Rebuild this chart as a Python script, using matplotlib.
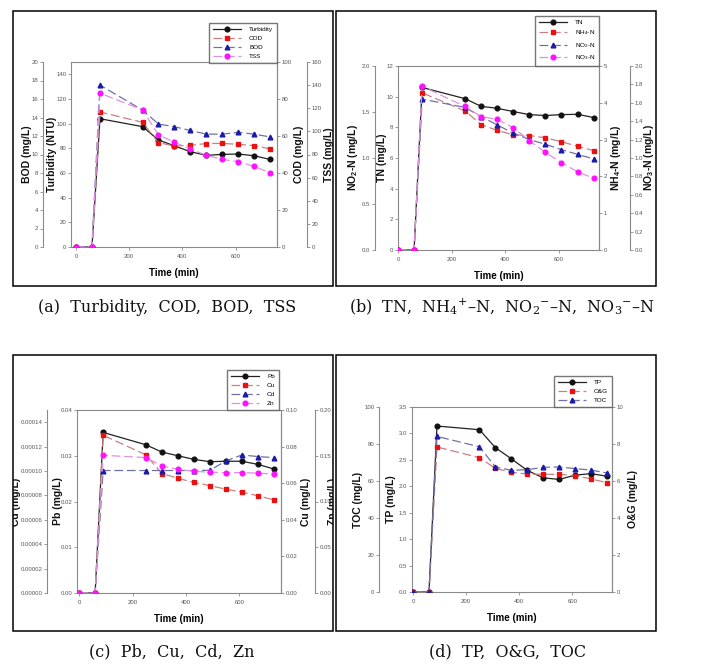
import matplotlib
matplotlib.use("Agg")
import matplotlib.pyplot as plt
from matplotlib.patches import Rectangle
from matplotlib.lines import Line2D
from matplotlib.ticker import FormatStrFormatter
import numpy as np

W, H = 701, 664
plt.rcParams.update({
    "font.family": ["Liberation Sans Narrow", "Liberation Sans", "DejaVu Sans"],
    "mathtext.fontset": "custom",
    "mathtext.rm": "Liberation Sans",
    "mathtext.bf": "Liberation Sans:bold",
})

# ---------------------------------------------------------------- data
time = [0, 60, 90, 250, 310, 370, 430, 490, 550, 610, 670, 730]

turbidity = [0, 0, 104, 97.6, 86.8, 82, 77.3, 74.3, 75.1, 75.4, 74, 71]
cod = [0, 0, 73, 67.4, 56.4, 54.6, 55, 55.9, 56, 55.5, 54.8, 53]
bod = [0, 0, 17.5, 14.8, 13.3, 13.0, 12.6, 12.2, 12.2, 12.4, 12.2, 11.9]
tss = [0, 0, 133, 118.6, 97, 90.6, 84.8, 79.3, 75.8, 73.8, 69.7, 64.2]

tn = [0, 0, 10.6, 9.87, 9.37, 9.24, 9.03, 8.83, 8.77, 8.83, 8.85, 8.64]
nh4 = [0, 0, 4.27, 3.78, 3.41, 3.25, 3.13, 3.11, 3.05, 2.94, 2.82, 2.70]
no2 = [0, 0, 1.64, 1.55, 1.45, 1.36, 1.27, 1.20, 1.15, 1.09, 1.04, 0.99]
no3 = [0, 0, 1.78, 1.56, 1.45, 1.42, 1.33, 1.19, 1.06, 0.95, 0.85, 0.78]

pb = [0, 0, 0.0351, 0.0324, 0.0308, 0.0300, 0.0292, 0.0287, 0.0288, 0.0288, 0.0281, 0.0271]
cu = [0, 0, 0.0862, 0.0755, 0.0653, 0.0627, 0.0604, 0.0587, 0.0567, 0.0551, 0.0531, 0.0509]
cd = [0, 0, 1.004e-4, 1.004e-4, 1.004e-4, 1.004e-4, 1.004e-4, 1.006e-4, 1.083e-4, 1.132e-4, 1.118e-4, 1.110e-4]
zn = [0, 0, 0.1505, 0.148, 0.139, 0.135, 0.133, 0.132, 0.1316, 0.1316, 0.131, 0.130]

tp = [0, 0, 3.14, 3.07, 2.73, 2.52, 2.30, 2.16, 2.13, 2.21, 2.24, 2.19]
og = [0, 0, 7.84, 7.26, 6.68, 6.47, 6.38, 6.36, 6.36, 6.29, 6.11, 5.91]
toc = [0, 0, 84.1, 78.5, 67.6, 65.8, 66.1, 67.4, 67.6, 66.7, 65.9, 64.3]

captions = ["(a)  Turbidity,  COD,  BOD,  TSS",
            "(b)  TN,  NH$_4$$^{+}$\u2013N,  NO$_2$$^{-}$\u2013N,  NO$_3$$^{-}$\u2013N",
            "(c)  Pb,  Cu,  Cd,  Zn",
            "(d)  TP,  O&G,  TOC"]

# series styles: (marker colour, line colour, marker, dashed)
STYLES = [("#111111", "#222222", "o", False),
          ("#e81010", "#c98080", "s", True),
          ("#1a1aa8", "#7070a8", "^", True),
          ("#ff10ff", "#e090e0", "o", True)]

SPINE = "#8a8a8a"
TICKC = "#555555"
TICKFS = 4.3

fig = plt.figure(figsize=(W / 100, H / 100), dpi=100)


def frect(l, t, r, b):
    return [l / W, 1 - b / H, (r - l) / W, (b - t) / H]


def style_y(a, side, lim, ticks, fmt):
    a.set_ylim(*lim)
    a.set_yticks(ticks)
    a.yaxis.set_major_formatter(FormatStrFormatter(fmt))
    a.tick_params(axis="y", which="both", direction="out", length=2.2, width=0.6,
                  colors=SPINE, labelcolor=TICKC, labelsize=TICKFS, pad=1.2)
    a.yaxis.set_ticks_position(side)


def panel(box, frame, xlim, series, labels, axes_spec, ylabels, leg_box):
    l, t, r, b = box
    # outer frame
    fl, ft, fr, fb = frame
    fig.patches.append(Rectangle((fl / W, 1 - fb / H), (fr - fl) / W, (fb - ft) / H,
                                 transform=fig.transFigure, fill=False,
                                 edgecolor="black", lw=1.1))
    ax = fig.add_axes(frect(l, t, r, b))
    ax.set_facecolor("none")
    for s in ax.spines.values():
        s.set_color(SPINE)
        s.set_linewidth(0.8)
    ax.set_xlim(*xlim)
    ax.set_xticks([0, 200, 400, 600])
    ax.tick_params(axis="x", direction="out", length=2.2, width=0.6,
                   colors=SPINE, labelcolor=TICKC, labelsize=TICKFS, pad=3)
    ax.set_xlabel("Time (min)", fontsize=7, fontweight="bold", labelpad=6)

    handles = []
    for i, (vals, spec) in enumerate(zip(series, axes_spec)):
        side, offset, lim, ticks, fmt = spec
        if i == 0:
            a = ax
        else:
            a = ax.twinx()
            for s in a.spines.values():
                s.set_visible(False)
            a.spines[side].set_visible(True)
            a.spines[side].set_color(SPINE)
            a.spines[side].set_linewidth(0.8)
            a.spines[side].set_position(("outward", offset * 0.72))
            a.yaxis.set_label_position(side)
        style_y(a, side, lim, ticks, fmt)
        mc, lc, mk, dashed = STYLES[i]
        ls = (0, (7, 3)) if dashed else "-"
        a.plot(time, vals, color=lc, ls=ls, lw=0.9, zorder=3)
        a.plot(time, vals, ls="none", marker=mk, ms=3.4, mfc=mc, mec=mc, zorder=4)
        handles.append(Line2D([], [], color=lc, ls=ls, lw=0.9, marker=mk, ms=3.4,
                              mfc=mc, mec=mc))
        if i == 0:
            a.tick_params(axis="y", right=False)

    # y labels placed at measured pixel positions
    fb_clip = matplotlib.transforms.Bbox.from_extents(fl, H - fb, fr, H - ft)
    for (px, txt) in ylabels:
        tx = fig.text(px / W, 1 - ((t + b) / 2) / H, txt, rotation=90,
                      ha="center", va="center", fontsize=7.5, fontweight="bold",
                      family=["Liberation Sans", "DejaVu Sans"], color="#111111")
        tx.set_clip_box(fb_clip)
        tx.set_clip_on(True)

    lr, lb = leg_box
    fig.legend(handles, labels, loc="lower right",
               bbox_to_anchor=(lr / W, 1 - lb / H), fontsize=4.6,
               frameon=True, fancybox=False, edgecolor="#555555",
               handlelength=4.4, handletextpad=1.2, borderpad=0.6,
               labelspacing=0.55, numpoints=1, borderaxespad=0)
    return ax


# ---------------------------------------------------------------- (a)
panel((71, 62, 277, 247), (13, 11, 333, 286), (-19, 756),
      [turbidity, cod, bod, tss], ["Turbidity", "COD", "BOD", "TSS"],
      [("left", 0, (0, 150), np.arange(0, 141, 20), "%d"),
       ("right", 0, (0, 100), np.arange(0, 101, 20), "%d"),
       ("left", 28, (0, 20), np.arange(0, 21, 2), "%d"),
       ("right", 30, (0, 160), np.arange(0, 161, 20), "%d")],
      [(27, "BOD (mg/L)"), (52, "Turbidity (NTU)"),
       (299, "COD (mg/L)"), (329, "TSS (mg/L)")],
      (277, 63))

# ---------------------------------------------------------------- (b)
panel((398, 66, 599, 250), (336, 11, 656, 286), (0, 750),
      [tn, nh4, no2, no3],
      ["TN", "NH$_4$-N", "NO$_2$-N", "NO$_3$-N"],
      [("left", 0, (0, 12), np.arange(0, 13, 2), "%d"),
       ("right", 0, (0, 5), np.arange(0, 6, 1), "%d"),
       ("left", 23, (0, 2), np.arange(0, 2.01, 0.5), "%.1f"),
       ("right", 31, (0, 2), np.arange(0, 2.01, 0.2), "%.1f")],
      [(353, r"NO$_\mathbf{2}$-N (mg/L)"), (382, "TN (mg/L)"),
       (616, r"NH$_\mathbf{4}$-N (mg/L)"), (649, r"NO$_\mathbf{3}$-N (mg/L)")],
      (599, 66))

# ---------------------------------------------------------------- (c)
panel((77, 410, 281, 593), (13, 355, 333, 631), (-8, 756),
      [pb, cu, cd, zn], ["Pb", "Cu", "Cd", "Zn"],
      [("left", 0, (0, 0.04), np.arange(0, 0.0401, 0.01), "%.2f"),
       ("right", 0, (0, 0.10), np.arange(0, 0.1001, 0.02), "%.2f"),
       ("left", 30, (0, 0.00015), np.arange(0, 0.000141, 0.00002), "%.5f"),
       ("right", 34, (0, 0.20), np.arange(0, 0.2001, 0.05), "%.2f")],
      [(16, "Cd (mg/L)"), (58, "Pb (mg/L)"),
       (306, "Cu (mg/L)"), (333, "Zn (mg/L)")],
      (279, 410))

# ---------------------------------------------------------------- (d)
panel((412, 407, 612, 592), (336, 355, 656, 631), (-4, 749),
      [tp, og, toc], ["TP", "O&G", "TOC"],
      [("left", 0, (0, 3.5), np.arange(0, 3.51, 0.5), "%.1f"),
       ("right", 0, (0, 10), np.arange(0, 11, 2), "%d"),
       ("left", 33, (0, 100), np.arange(0, 101, 20), "%d")],
      [(358, "TOC (mg/L)"), (391, "TP (mg/L)"), (633, "O&G (mg/L)")],
      (612, 407))

# ---------------------------------------------------------------- captions
for (cx, cy), cap in zip([(167, 307), (502, 307), (172, 652), (508, 652)], captions):
    fig.text(cx / W, 1 - cy / H, cap, ha="center", va="center", fontsize=11.5,
             family="DejaVu Serif", math_fontfamily="dejavuserif", color="#111111")

fig.savefig("out.png", dpi=100)
